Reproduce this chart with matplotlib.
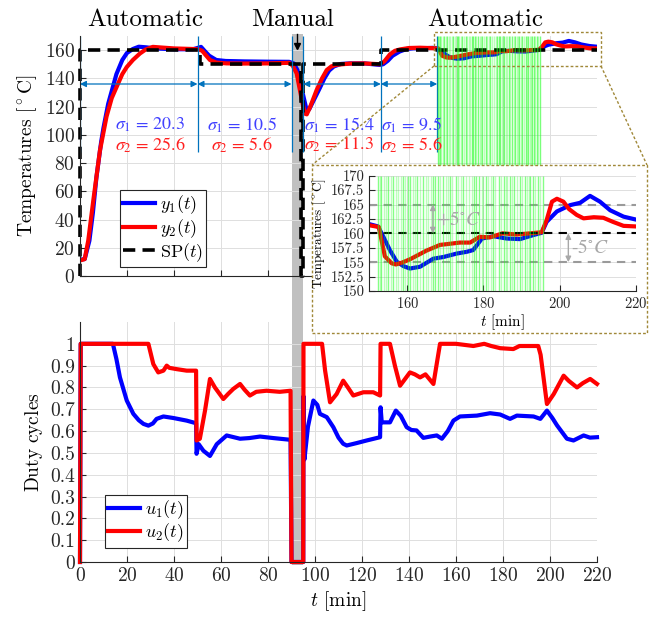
import matplotlib
matplotlib.use("Agg")
import matplotlib.pyplot as plt
import matplotlib.transforms as mtransforms
from matplotlib.patches import Rectangle
from matplotlib.lines import Line2D

plt.rcParams['font.family'] = 'cmr10'
plt.rcParams['mathtext.fontset'] = 'cm'
plt.rcParams['axes.formatter.use_mathtext'] = True

# --- temperatures ---
t_y1 = [0, 2, 4, 5.5, 7, 9, 10, 12, 13, 15.5, 18, 20, 22.5, 25, 28, 32, 40, 48, 50, 51.5, 53, 55, 58, 62,
        70, 80, 89, 91, 92.5, 94, 96.5, 97.5, 99, 102, 104, 106, 108, 111, 115, 121, 127.5, 129, 131, 133,
        136, 139, 142, 146, 150, 152.3, 153.7, 155.4, 157.2, 159, 160.7, 163.3, 166.8, 169.5, 173, 175.6,
        177.3, 179.6, 182.6, 186.1, 189.6, 193.1, 195.3, 196.6, 199.3, 202.8, 205.4, 208, 210.6, 213.3,
        216.8, 220]
y1 = [11.5, 12, 25, 45, 70, 95, 105, 122, 128, 143, 153, 158, 160.8, 162.4, 162, 161.2, 160.6, 160.6, 161.5,
      162.3, 159.5, 156, 153, 152.3, 152, 151.8, 151.7, 150.5, 146, 135, 117, 118, 123, 133, 140, 145.5,
      148.4, 150.2, 150.6, 150.6, 149.5, 150, 152.5, 156, 159, 160.8, 161.3, 161.3, 161.6, 161.2, 159.4,
      157.1, 155.1, 154.3, 153.9, 154.2, 155.6, 155.9, 156.5, 156.8, 157.1, 159.1, 159.5, 159.1, 159.0,
      159.7, 160.1, 162.0, 163.8, 164.9, 165.3, 166.5, 165.5, 164.0, 162.9, 162.4]

t_y2 = [0, 2, 3.5, 5.7, 8.5, 11.3, 13.5, 15.6, 18, 19.9, 22.5, 25.5, 28, 31, 35, 40, 48, 50.5, 52, 53.5,
        55.3, 58, 62.4, 70, 80, 89, 90.5, 92.2, 94.4, 95.7, 96.5, 98, 100.7, 103, 105, 107, 109.2, 115,
        120.6, 127.7, 129.5, 131.9, 134, 136.2, 140, 144.7, 150, 152.5, 154.1, 155.9, 157, 158.5, 160.7,
        163, 165, 168.6, 170, 173.8, 176.5, 179, 181.7, 185, 188.7, 192.2, 195.3, 196.6, 198, 199.3, 201,
        202.5, 204.5, 206.3, 209, 211.5, 214, 216.8, 220]
y2 = [11, 12, 25, 54, 89, 113, 126, 134, 143, 148, 153, 157.6, 160.5, 162.3, 161.8, 161.2, 160.8, 160.5,
      159.5, 156.5, 153, 151.2, 150.6, 150.5, 150.6, 151, 149, 143.5, 124.6, 115, 114.5, 120, 131.7, 140,
      145.9, 148.5, 149.6, 150.5, 150.6, 150, 152, 157, 159.5, 160.5, 161.5, 161.7, 161.4, 161.1, 156.0,
      154.8, 154.6, 154.9, 155.5, 156.3, 157.0, 158.0, 158.1, 158.4, 158.4, 159.4, 159.3, 160.0, 159.8,
      160.0, 160.2, 162.3, 165.5, 166.0, 165.5, 164.2, 163.2, 162.6, 162.8, 162.7, 162.0, 161.3, 161.2]

t_sp = [0, 0, 51, 51, 94, 94, 95, 95, 128, 128, 220]
sp = [0, 160, 160, 150, 150, 0, 0, 150, 150, 160, 160]

# --- duty cycles ---
t_u1 = [0, 0.3, 14, 15.5, 17, 19.9, 22.7, 25, 27, 29.1, 31, 32.6, 35.5, 39.7, 45.4, 49.4, 49.6, 50.5, 52.5,
        55.3, 58.2, 62.4, 68.1, 72, 76.6, 82.3, 89.6, 90, 95, 95.1, 95.5, 97, 99.3, 101, 102.1, 105, 107.8,
        110, 112, 113.5, 117.7, 122, 127.7, 127.9, 128.4, 131.9, 134.4, 136.5, 139, 141, 143.2, 146.1, 149,
        151.8, 154, 156.5, 158.9, 161.7, 168.9, 174.5, 178.8, 183, 185.9, 193, 195.9, 198.7, 201, 203,
        207.2, 210, 214.3, 217, 220]
u1 = [0, 1, 1, 0.93, 0.846, 0.74, 0.679, 0.65, 0.633, 0.625, 0.635, 0.656, 0.667, 0.66, 0.648, 0.636, 0.496,
      0.54, 0.51, 0.486, 0.54, 0.58, 0.565, 0.568, 0.575, 0.568, 0.56, 0, 0, 0.76, 0.47, 0.62, 0.74, 0.72,
      0.679, 0.664, 0.618, 0.57, 0.542, 0.534, 0.545, 0.557, 0.572, 0.709, 0.64, 0.64, 0.694, 0.67, 0.618,
      0.605, 0.603, 0.569, 0.575, 0.58, 0.565, 0.6, 0.648, 0.667, 0.671, 0.682, 0.676, 0.656, 0.671, 0.667,
      0.656, 0.694, 0.66, 0.626, 0.565, 0.557, 0.58, 0.57, 0.572]

t_u2 = [0, 0.3, 29.1, 31.2, 33.3, 35.5, 36.9, 38, 41.1, 45.4, 49.4, 49.6, 51, 53.2, 55.3, 57.4, 61, 63, 65.2,
        68.1, 70, 72.3, 75, 79.4, 85, 89.6, 90, 95, 95.1, 103, 104.3, 106.4, 109.2, 112, 114, 116.3, 120.6,
        124.8, 127.7, 127.9, 131.9, 134, 136.2, 140.4, 142.5, 144.7, 147, 150.4, 153.2, 160, 167.4, 172,
        175, 178.8, 184.4, 187, 190.1, 195, 196, 198.7, 201.6, 205.8, 208, 211.5, 214, 217.1, 220]
u2 = [0, 1, 1, 0.907, 0.869, 0.877, 0.9, 0.89, 0.884, 0.877, 0.877, 0.557, 0.565, 0.694, 0.839, 0.8, 0.747,
      0.77, 0.793, 0.816, 0.79, 0.763, 0.78, 0.785, 0.78, 0.785, 0, 0, 1, 1, 0.877, 0.732, 0.77, 0.831, 0.8,
      0.763, 0.778, 0.778, 0.763, 1, 1, 0.9, 0.808, 0.869, 0.86, 0.846, 0.86, 0.816, 1, 1, 0.99, 1, 0.99,
      0.98, 0.976, 0.99, 0.99, 0.99, 0.95, 0.724, 0.77, 0.854, 0.83, 0.8, 0.82, 0.839, 0.816]

# phases and per-phase deviations
phase_edges = [0, 50, 90, 95, 128, 152]
arrow_spans = [(0, 50), (50, 90), (95, 128), (128, 152)]
sigma1 = ['20.3', '10.5', '15.4', '9.5']
sigma2 = ['25.6', '5.6', '11.3', '5.6']
sigma_x = [30, 69, 95.3, 128.2]
sigma_ha = ['center', 'center', 'left', 'left']

# threshold events (green marks)
green_strong = [152.4, 153.1, 155.0, 156.2, 158.9, 160.3, 160.8, 162.5, 164.1, 166.7, 167.3, 168.0, 169.4,
                171.2, 172.8, 174.5, 177.6, 178.1, 178.9, 180.6, 182.4, 184.0, 185.3, 186.9, 188.1, 189.6,
                190.8, 192.2, 193.0, 194.4, 195.6]
green_faint = [152.8, 153.8, 154.4, 155.7, 157.0, 157.6, 158.3, 159.5, 161.4, 162.0, 163.3, 164.8, 165.5,
               166.1, 168.7, 170.1, 170.7, 171.8, 173.4, 174.0, 175.3, 176.1, 176.9, 179.6, 180.0, 181.3,
               181.9, 183.1, 184.6, 185.9, 186.3, 187.5, 188.8, 190.2, 191.4, 191.9, 193.6, 194.9]

W, H = 655, 619
fig = plt.figure(figsize=(W / 100, H / 100), dpi=100)

BLUE = '#0000ff'
RED = '#ff0000'
MBLUE = '#0072bd'
GOLD = '#a08838'
GRID = '#dedede'
GREEN = '#22ff22'


def style(ax, size=14):
    ax.spines['top'].set_visible(False)
    ax.spines['right'].set_visible(False)
    ax.set_facecolor('none')
    ax.grid(True, color=GRID, lw=0.7)
    ax.set_axisbelow(True)
    ax.tick_params(direction='in', length=4, width=0.8, labelsize=size, colors='#262626')
    for s in ('left', 'bottom'):
        ax.spines[s].set_color('#262626')


def legend(ax, anchor):
    leg = ax.legend(loc='lower left', bbox_to_anchor=anchor, fontsize=13, frameon=True,
                    fancybox=False, edgecolor='#262626', framealpha=1, handlelength=1.75,
                    borderpad=0.2, labelspacing=0.05, handletextpad=0.25, borderaxespad=0)
    leg.get_frame().set_linewidth(0.8)


ax1 = fig.add_axes([80 / W, 1 - 276 / H, 517 / W, 240 / H])
ax2 = fig.add_axes([80 / W, 1 - 562 / H, 517 / W, 240 / H])

# ---------------- top: temperatures ----------------
style(ax1)
ax1.plot(t_y1, y1, color=BLUE, lw=3, label='$y_1(t)$', zorder=2)
ax1.plot(t_y2, y2, color=RED, lw=3, label='$y_2(t)$', zorder=2.1)
ax1.plot(t_sp, sp, color='black', lw=2.6, ls=(0, (3.4, 2)), label='SP$(t)$', zorder=2.2, clip_on=False)
ax1.vlines(green_strong, 0, 170, color=GREEN, alpha=0.6, lw=1, zorder=3)
ax1.vlines(green_faint, 0, 170, color=GREEN, alpha=0.3, lw=1, zorder=3)
ax1.vlines(phase_edges, 88, 170, color=MBLUE, lw=0.9, zorder=2.5)
for a, b in arrow_spans:
    ax1.annotate('', xy=(b, 136), xytext=(a, 136),
                 arrowprops=dict(arrowstyle='<|-|>', color=MBLUE, lw=0.9, mutation_scale=9,
                                 shrinkA=0, shrinkB=0), zorder=2.5)
for x, s1, s2, ha in zip(sigma_x, sigma1, sigma2, sigma_ha):
    ax1.text(x, 107, r'$\sigma_1\,=\,%s$' % s1, color='#4040ff', fontsize=13, ha=ha, va='center',
             math_fontfamily='stix', zorder=4)
    ax1.text(x, 92.7, r'$\sigma_2\,=\,%s$' % s2, color='#ff2020', fontsize=13, ha=ha, va='center',
             math_fontfamily='stix', zorder=4)
ax1.set_xlim(0, 220)
ax1.set_ylim(0, 170)
ax1.set_xticks(range(0, 221, 20))
ax1.set_xticklabels([])
ax1.set_yticks(range(0, 161, 20))
ax1.set_ylabel(r'Temperatures [$^\circ\mathrm{C}$]', fontsize=14, labelpad=4)
ax1.add_patch(Rectangle((150.5, 149), 71, 23.5, fill=False, ec=GOLD, lw=1, ls=(0, (2, 1.5)),
                        clip_on=False, zorder=5))
legend(ax1, (0.077, 0.037))

# ---------------- bottom: duty cycles ----------------
style(ax2)
ax2.plot(t_u1, u1, color=BLUE, lw=3, label='$u_1(t)$', clip_on=False)
ax2.plot(t_u2, u2, color=RED, lw=3, label='$u_2(t)$', clip_on=False)
ax2.set_xlim(0, 220)
ax2.set_ylim(0, 1.1)
ax2.set_xticks(range(0, 221, 20))
ax2.set_yticks([i / 10 for i in range(11)])
ax2.set_yticklabels(['0'] + ['0.%d' % i for i in range(1, 10)] + ['1'])
ax2.set_ylabel(r'$\mathrm{Duty\ cycles}$', fontsize=14, labelpad=4)
ax2.set_xlabel('$t$ [min]', fontsize=14, labelpad=3)
legend(ax2, (0.048, 0.058))

# manual-mode band spanning both panels
tr = mtransforms.blended_transform_factory(ax2.transData, fig.transFigure)
fig.add_artist(Rectangle((90, 1 - 565 / H), 5, (565 - 34) / H, transform=tr, fc='#c0c0c0',
                         ec='none', zorder=-1))
fig.add_artist(Line2D([297 / W, 297 / W], [1 - 34 / H, 1 - 48 / H], color='black', lw=1, zorder=6))
fig.add_artist(Line2D([297 / W], [1 - 46 / H], marker='v', ms=5, color='black', zorder=6))

# ---------------- inset ----------------
fig.add_artist(Rectangle((312 / W, 1 - 333 / H), 335 / W, 168 / H, transform=fig.transFigure,
                         fc='white', ec=GOLD, lw=1, ls=(0, (2, 1.5)), zorder=1))
fig.add_artist(Line2D([434 / W, 312 / W], [1 - 66 / H, 1 - 165 / H], color=GOLD, lw=1,
                      ls=(0, (2, 1.5)), zorder=1))
fig.add_artist(Line2D([601 / W, 647 / W], [1 - 66 / H, 1 - 165 / H], color=GOLD, lw=1,
                      ls=(0, (2, 1.5)), zorder=1))

axi = fig.add_axes([369.3 / W, 1 - 291 / H, 266.4 / W, 115.3 / H], zorder=3)
style(axi, size=10.5)
axi.set_facecolor('white')
axi.plot(t_y1, y1, color=BLUE, lw=3, zorder=2)
axi.plot(t_y2, y2, color=RED, lw=3, zorder=2.1)
axi.axhline(160, color='black', lw=1.5, ls=(0, (4, 3)), zorder=2.2)
axi.axhline(165, color='#9a9a9a', lw=1.5, ls=(0, (4, 3)), zorder=1.5)
axi.axhline(155, color='#9a9a9a', lw=1.5, ls=(0, (4, 3)), zorder=1.5)
axi.vlines(green_strong, 150, 170, color=GREEN, alpha=0.55, lw=1, zorder=3)
axi.vlines(green_faint, 150, 170, color=GREEN, alpha=0.3, lw=1, zorder=3)
axi.annotate('', xy=(166.7, 165), xytext=(166.7, 160),
             arrowprops=dict(arrowstyle='<|-|>', color='#a8a8a8', lw=1, mutation_scale=8,
                             shrinkA=0, shrinkB=0), zorder=4)
axi.annotate('', xy=(202.3, 155), xytext=(202.3, 160),
             arrowprops=dict(arrowstyle='<|-|>', color='#a8a8a8', lw=1, mutation_scale=8,
                             shrinkA=0, shrinkB=0), zorder=4)
axi.text(167.5, 162.4, r'$+5^{\circ}C$', color='#a8a8a8', fontsize=14, va='center',
         math_fontfamily='stix', zorder=4)
axi.text(203.1, 157.4, r'$\text{-}5^{\circ}C$', color='#a8a8a8', fontsize=14, va='center',
         math_fontfamily='stix', zorder=4)
axi.set_xlim(150, 220)
axi.set_ylim(150, 170)
axi.set_xticks([160, 180, 200, 220])
axi.set_yticks([150, 152.5, 155, 157.5, 160, 162.5, 165, 167.5, 170])
axi.set_yticklabels(['150', '152.5', '155', '157.5', '160', '162.5', '165', '167.5', '170'])
axi.set_xlabel('$t$ [min]', fontsize=11, labelpad=1)
axi.set_ylabel(r'Temperatures [$^\circ\mathrm{C}$]', fontsize=9.5, labelpad=2)

# mode labels
fig.text(145 / W, 1 - 20 / H, 'Automatic', fontsize=18, ha='center', va='center')
fig.text(293 / W, 1 - 20 / H, 'Manual', fontsize=18, ha='center', va='center')
fig.text(485 / W, 1 - 20 / H, 'Automatic', fontsize=18, ha='center', va='center')

fig.savefig('out.png', dpi=100)
